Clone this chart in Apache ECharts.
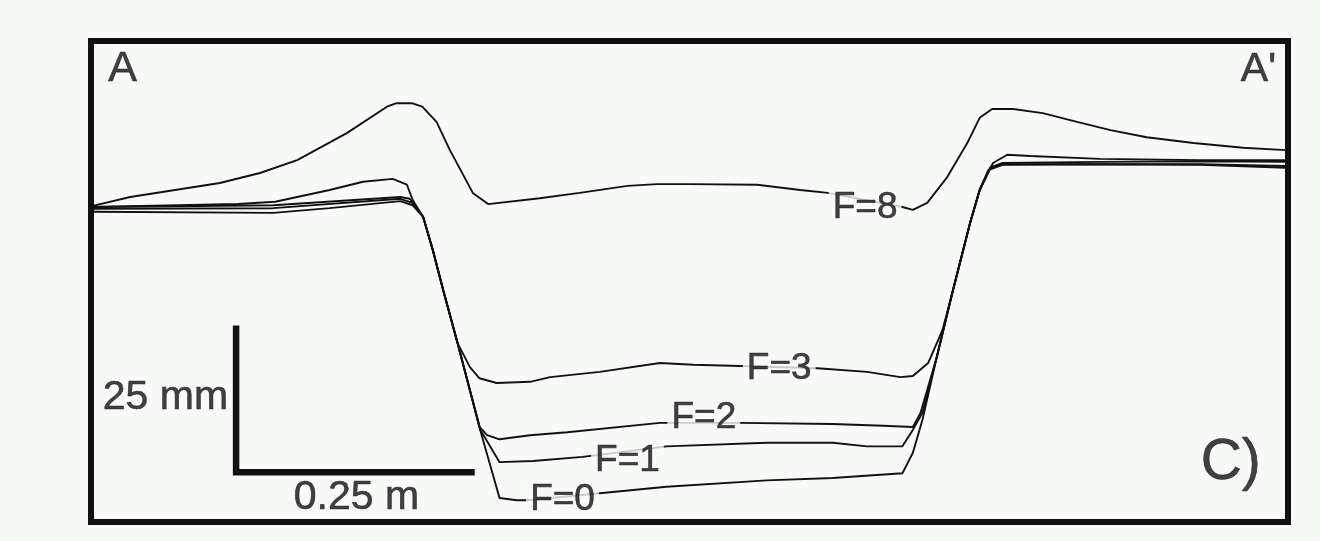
<!DOCTYPE html>
<html>
<head>
<meta charset="utf-8">
<script src="https://cdn.jsdelivr.net/npm/echarts@6/dist/echarts.min.js"></script>
<style>
html,body{margin:0;padding:0;background:#f8faf8;}
#chart{width:1320px;height:541px;}
</style>
</head>
<body>
<div id="chart"></div>
<script>
// distance across section (m), elevation (mm)
const profileF8 = [[0,0.4],[0.039,1.9],[0.133,4.3],[0.175,6.0],[0.214,8.2],[0.266,12.8],[0.308,17.3],[0.318,17.9],[0.334,17.9],[0.345,17.3],[0.360,14.7],[0.374,9.9],[0.398,2.6],[0.414,0.7],[0.468,1.7],[0.510,2.6],[0.560,3.8],[0.591,4.1],[0.626,4.1],[0.696,4.0],[0.741,3.1],[0.770,2.6],[0.848,0.2],[0.859,-0.3],[0.874,0.9],[0.895,5.3],[0.916,11.1],[0.929,15.4],[0.942,16.9],[0.964,16.9],[0.995,16.2],[1.031,14.7],[1.066,13.3],[1.104,12.1],[1.153,11.1],[1.205,10.3],[1.250,9.9]];
const profileF3 = [[0,0.2],[0.152,0.7],[0.191,1.1],[0.248,3.1],[0.283,4.5],[0.314,5.0],[0.329,4.0],[0.335,1.4],[0.346,-1.5],[0.356,-7.1],[0.367,-14.0],[0.382,-23.0],[0.395,-27.1],[0.405,-29.0],[0.423,-29.8],[0.458,-29.6],[0.479,-28.8],[0.531,-27.9],[0.594,-26.4],[0.629,-26.7],[0.678,-26.9],[0.759,-27.3],[0.811,-27.9],[0.846,-28.8],[0.859,-28.6],[0.875,-26.4],[0.890,-20.8],[0.901,-14.0],[0.919,-2.5],[0.929,3.1],[0.943,7.7],[0.958,9.1],[0.982,8.9],[1.055,8.4],[1.160,8.2],[1.250,8.2]];
const profileF2 = [[0,0.2],[0.189,0.5],[0.322,1.9],[0.332,1.6],[0.337,0.5],[0.346,-1.5],[0.356,-7.1],[0.367,-14.0],[0.382,-23.0],[0.405,-37.3],[0.413,-38.7],[0.426,-39.4],[0.458,-38.7],[0.497,-38.2],[0.594,-36.6],[0.678,-36.6],[0.775,-36.8],[0.828,-37.1],[0.859,-37.3],[0.867,-34.9],[0.884,-25.4],[0.901,-14.0],[0.919,-2.5],[0.929,3.1],[0.940,6.9],[0.953,7.7],[1.055,7.9],[1.160,8.0],[1.250,7.9]];
const profileF1 = [[0,-0.1],[0.189,0.0],[0.322,1.6],[0.335,0.9],[0.346,-1.5],[0.356,-7.1],[0.367,-14.0],[0.382,-23.0],[0.406,-37.8],[0.426,-43.3],[0.461,-43.1],[0.513,-42.4],[0.601,-40.6],[0.706,-40.0],[0.775,-40.0],[0.811,-40.6],[0.848,-40.6],[0.859,-37.8],[0.869,-34.9],[0.884,-25.4],[0.901,-14.0],[0.919,-2.5],[0.929,3.1],[0.940,6.9],[0.953,7.5],[1.055,7.5],[1.160,7.5],[1.250,7.2]];
const profileF0 = [[0,-0.6],[0.189,-0.8],[0.248,0.0],[0.322,1.2],[0.335,0.5],[0.346,-1.5],[0.356,-7.1],[0.367,-14.0],[0.382,-23.0],[0.406,-38.0],[0.426,-49.4],[0.444,-49.8],[0.455,-49.8],[0.531,-48.6],[0.601,-47.5],[0.706,-46.4],[0.775,-46.0],[0.848,-45.2],[0.859,-41.7],[0.869,-36.1],[0.884,-25.4],[0.901,-14.0],[0.919,-2.5],[0.929,3.1],[0.938,6.5],[0.953,7.4],[1.055,7.5],[1.160,7.4],[1.250,6.9]];

const curveLabels = ['F=8','F=3','F=2','F=1','F=0'];
const curveLabelX = [0.809,0.719,0.640,0.560,0.492];
const curveLabelY = [0.1,-27.4,-35.8,-43.1,-49.8];

// scale bars: 0.25 m horizontal, 25 mm vertical
const scaleOrigin = [0.150,-45.0];
const scaleLenX = 0.25;
const scaleLenY = 25;

const annoText = ['A',"A'",'C)','25 mm','0.25 m'];
const annoX = [0.031,1.221,1.192,0.076,0.276];
const annoY = [23.7,23.6,-43.5,-32.3,-49.3];
const annoSize = [43,41,57,41,41];

const BG = '#f8faf8';
const INK = '#111111';
const FONT = 'Liberation Sans, Arial, Helvetica, sans-serif';

const chart = echarts.init(document.getElementById('chart'), null, {renderer:'canvas'});

const profiles = [profileF8, profileF3, profileF2, profileF1, profileF0];
const series = profiles.map((p,i)=>({
  type:'line', data:p, showSymbol:false, symbol:'none', smooth:false,
  lineStyle:{color:INK, width:1.9}, z:2, silent:true
}));

series.push({
  type:'line', showSymbol:false, symbol:'none', z:3, silent:true,
  lineStyle:{color:INK, width:6.5, cap:'butt', join:'miter'},
  data:[[scaleOrigin[0], scaleOrigin[1]+scaleLenY],[scaleOrigin[0], scaleOrigin[1]],[scaleOrigin[0]+scaleLenX, scaleOrigin[1]]]
});

series.push({
  type:'scatter', symbolSize:1, z:5, silent:true,
  itemStyle:{color:'rgba(0,0,0,0)'},
  data: curveLabels.map((t,i)=>({name:t, value:[curveLabelX[i], curveLabelY[i]]})),
  label:{show:true, position:'inside', formatter:'{b}', color:INK, fontSize:37,
    fontFamily:FONT, backgroundColor:BG, padding:[0,4],
    textBorderColor:INK, textBorderWidth:0.6}
});

series.push({
  type:'scatter', symbolSize:1, z:5, silent:true,
  itemStyle:{color:'rgba(0,0,0,0)'},
  data: annoText.map((t,i)=>({name:t, value:[annoX[i], annoY[i]],
    label:{fontSize:annoSize[i]}})),
  label:{show:true, position:'inside', formatter:'{b}', color:INK,
    fontFamily:FONT, textBorderColor:INK, textBorderWidth:0.6}
});

chart.setOption({
  backgroundColor: BG,
  animation:false,
  grid:{left:91, right:32, top:41, bottom:19, show:true, borderColor:'#111', borderWidth:6, backgroundColor:BG},
  xAxis:{type:'value', min:-0.002, max:1.252, show:false},
  yAxis:{type:'value', min:-53.5, max:28.5, show:false},
  series: series
});
</script>
</body>
</html>
